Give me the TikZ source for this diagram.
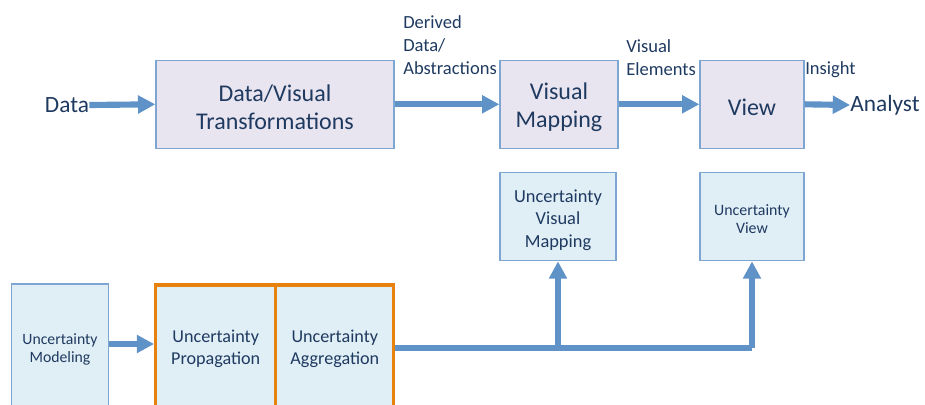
\documentclass[tikz,border=0pt]{standalone}
\usepackage{fontspec}
\setmainfont{Carlito}
\usetikzlibrary{arrows.meta}
\definecolor{txt}{HTML}{1F3A60}
\definecolor{lav}{HTML}{E9E5F0}
\definecolor{lblue}{HTML}{E0EEF6}
\definecolor{bord}{HTML}{7EA6D3}
\definecolor{arr}{HTML}{5F93C8}
\definecolor{orng}{HTML}{E8820E}
\tikzset{
  topbox/.style={draw=bord, line width=1pt, fill=lav, inner sep=0pt},
  ubox/.style={draw=bord, line width=1pt, fill=lblue, inner sep=0pt},
  obox/.style={draw=orng, line width=2.4pt, fill=lblue, inner sep=0pt},
  intext/.style={text=txt, align=center, inner sep=0pt, yshift=-2.4pt},
  toptext/.style={intext, font=\fontsize{18}{21}\selectfont},
  lbl/.style={text=txt, align=left, inner sep=0pt, font=\fontsize{13.9}{17.25}\selectfont},
  big/.style={text=txt, inner sep=0pt, font=\fontsize{17.5}{21}\selectfont},
  flow/.style={draw=arr, line width=4.6pt, -{Triangle[length=13pt,width=13pt]}},
  flowline/.style={draw=arr, line width=4.6pt},
}
\begin{document}
\begin{tikzpicture}[x=0.75pt,y=-0.75pt]
\useasboundingbox (0,0) rectangle (925,404);
\clip (0,0) rectangle (925,404);
% top row
\node[big] (data) at (67,105) {Data};
\node[topbox, minimum width=238*0.75pt, minimum height=88*0.75pt,
  label={[toptext]center:Data/Visual\\Transformations}] (dvt) at (275,104.3) {};
\node[topbox, minimum width=118*0.75pt, minimum height=88*0.75pt,
  label={[toptext]center:Visual\\Mapping}] (vm) at (559,104.3) {};
\node[topbox, minimum width=104*0.75pt, minimum height=88*0.75pt,
  label={[toptext]center:View}] (view) at (752,104.3) {};
\node[big] (analyst) at (885,105) {Analyst};
\node[lbl, anchor=west] (derived) at (403,45) {Derived\\Data/\\Abstractions};
\node[lbl, anchor=west] (velem) at (626,58) {Visual\\Elements};
\node[lbl, anchor=west] (insight) at (805,70) {Insight};
\draw[flow] (data.east) -- (dvt.west);
\draw[flow] (dvt.east) -- (vm.west);
\draw[flow] (vm.east) -- (view.west);
\draw[flow] (view.east) -- (analyst.west);
% bottom row
\node[ubox, minimum width=97*0.75pt, minimum height=124*0.75pt,
  label={[intext, font=\fontsize{11.8}{13.9}\selectfont]center:Uncertainty\\Modeling}] (umod) at (60,346) {};
\node[obox, minimum width=120*0.75pt, minimum height=124*0.75pt,
  label={[intext, yshift=1pt, font=\fontsize{13.6}{16.7}\selectfont]center:Uncertainty\\Propagation}] (uprop) at (215.7,347) {};
\node[obox, minimum width=118*0.75pt, minimum height=124*0.75pt,
  label={[intext, yshift=1pt, font=\fontsize{13.6}{16.7}\selectfont]center:Uncertainty\\Aggregation}] (uagg) at (334.8,347) {};
\node[ubox, minimum width=116*0.75pt, minimum height=88*0.75pt,
  label={[intext, font=\fontsize{13.8}{16.9}\selectfont]center:Uncertainty\\Visual\\Mapping}] (uvm) at (558,216.7) {};
\node[ubox, minimum width=104*0.75pt, minimum height=88*0.75pt,
  label={[intext, yshift=0.8pt, font=\fontsize{11.9}{13.5}\selectfont]center:Uncertainty\\View}] (uview) at (752,216.7) {};
\draw[flow] (umod.east |- 0,344) -- (uprop.west |- 0,344);
\coordinate (j1) at (uvm.south |- 0,348);
\coordinate (j2) at (uview.south |- 0,348);
\draw[flowline] (uagg.east |- 0,348) -- (j2);
\draw[flow] (j2) -- (uview.south);
\draw[flow] (j1) -- (uvm.south);
\end{tikzpicture}
\end{document}
